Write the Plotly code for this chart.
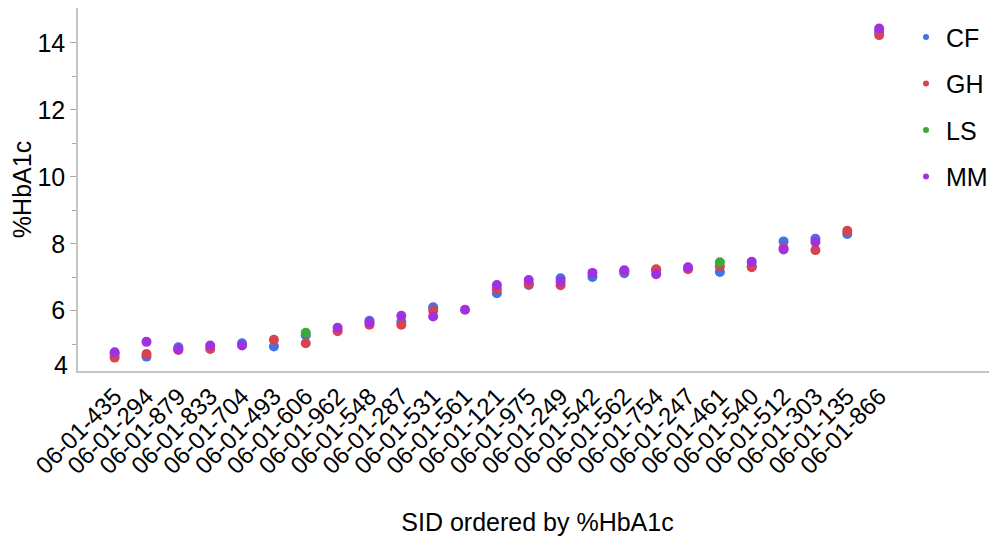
import plotly.graph_objects as go

sids = ["06-01-435", "06-01-294", "06-01-879", "06-01-833", "06-01-704", "06-01-493",
        "06-01-606", "06-01-962", "06-01-548", "06-01-287", "06-01-531", "06-01-561",
        "06-01-121", "06-01-975", "06-01-249", "06-01-542", "06-01-562", "06-01-754",
        "06-01-247", "06-01-461", "06-01-540", "06-01-512", "06-01-303", "06-01-135",
        "06-01-866"]

cf = [4.71, 4.63, 4.91, None, 5.03, 4.93, 5.27, None, 5.70, 5.67, 6.10, None,
      6.52, 6.77, 6.97, 7.01, 7.12, 7.21, None, 7.16, 7.33, 8.07, 8.15, 8.29, 14.33]
gh = [4.60, 4.71, 4.83, 4.86, None, 5.13, 5.03, 5.39, 5.58, 5.58, 6.00, None,
      6.64, 6.80, 6.76, None, 7.18, 7.24, 7.24, 7.33, 7.30, 7.87, 7.81, 8.39, 14.23]
ls = [None, None, None, None, None, None, 5.34, None, None, None, None, None,
      None, None, None, None, None, None, None, 7.45, None, None, None, None, None]
mm = [4.76, 5.07, 4.85, 4.96, 4.96, None, None, 5.49, 5.65, 5.85, 5.83, 6.03,
      6.77, 6.92, 6.87, 7.13, 7.21, 7.09, 7.30, None, 7.46, 7.83, 8.05, None, 14.43]

series = [("CF", cf, "#4272E3"), ("GH", gh, "#D9434F"), ("LS", ls, "#3BA83B"), ("MM", mm, "#A030E0")]

FONT = "Liberation Sans, Arial, Helvetica, sans-serif"

fig = go.Figure()
for name, vals, color in series:
    xs = [s for s, v in zip(sids, vals) if v is not None]
    ys = [v for v in vals if v is not None]
    fig.add_trace(go.Scatter(x=xs, y=ys, mode="markers", name=name, legendgroup=name,
                             showlegend=False,
                             marker=dict(color=color, size=10, line=dict(width=0))))
# legend entries with smaller symbols, as in the reference
for name, vals, color in series:
    fig.add_trace(go.Scatter(x=[None], y=[None], mode="markers", name=name, legendgroup=name,
                             showlegend=True, hoverinfo="skip",
                             marker=dict(color=color, size=6, line=dict(width=0))))

fig.update_layout(
    width=989, height=532,
    margin=dict(l=70, r=0, t=0, b=169, autoexpand=False),
    paper_bgcolor="white", plot_bgcolor="white",
    font=dict(family=FONT, size=24, color="black"),
    legend=dict(x=0.901, y=0.983, xanchor="left", yanchor="top",
                font=dict(size=25), tracegroupgap=11, itemsizing="trace",
                bgcolor="rgba(0,0,0,0)"),
    xaxis=dict(
        type="category", categoryorder="array", categoryarray=sids,
        range=[-1.15, 27.7], tickangle=-45, showgrid=False, zeroline=False,
        showline=True, linecolor="#c4c4c4", linewidth=1.5, ticks="",
        tickfont=dict(size=24), automargin=False,
        title=dict(text="SID ordered by %HbA1c", font=dict(size=25), standoff=36),
    ),
    yaxis=dict(
        range=[4.2, 15.04], tickvals=[6, 8, 10, 12, 14], showgrid=False, zeroline=False,
        showline=True, linecolor="#c4c4c4", linewidth=1.5, ticks="outside",
        ticklen=6, tickcolor="#aaaaaa", tickfont=dict(size=25), automargin=False,
        minor=dict(tickvals=[5, 7, 9, 11, 13], ticks="outside", ticklen=4, tickcolor="#aaaaaa"),
        title=dict(text="%HbA1c", font=dict(size=25), standoff=6),
    ),
)
fig.add_annotation(text="4", xref="paper", yref="paper", x=0, y=0, xanchor="right",
                   yanchor="bottom", xshift=-8, yshift=-10, showarrow=False,
                   font=dict(size=25, family=FONT))

fig.write_html("out.html")
